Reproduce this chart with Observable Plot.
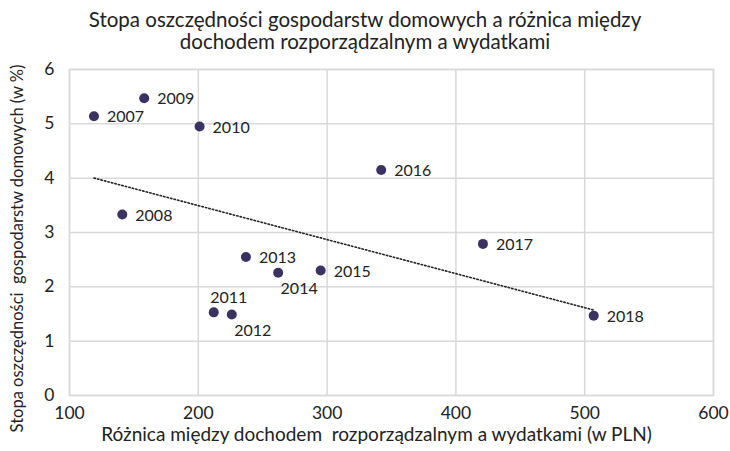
<!DOCTYPE html>
<html>
<head>
<meta charset="utf-8">
<script src="https://cdn.jsdelivr.net/npm/d3@7"></script>
<script src="https://cdn.jsdelivr.net/npm/@observablehq/plot@0.6"></script>
<style>
  body { margin: 0; background: #fff; font-family: Lato, "Open Sans", sans-serif; }
  #wrap { position: relative; width: 730px; height: 451px; }
  #title { position: absolute; top: 0; left: 0; width: 730px; box-sizing: border-box; padding-top: 8px; text-align: center; font-size: 20.5px; line-height: 22px; color: #222; }
</style>
</head>
<body>
<div id="wrap">
<div id="chart"></div>
<div id="title">Stopa oszczędności gospodarstw domowych a różnica między<br>dochodem rozporządzalnym a wydatkami</div>
</div>
<script>
const years = [2007, 2008, 2009, 2010, 2011, 2012, 2013, 2014, 2015, 2016, 2017, 2018];
const diffPLN = [119, 141, 158, 201, 212, 226, 237, 262, 295, 342, 421, 507];
const savingsRate = [5.14, 3.33, 5.47, 4.95, 1.53, 1.49, 2.55, 2.26, 2.30, 4.15, 2.79, 1.47];
const xTicks = [100, 200, 300, 400, 500, 600];
const yTicks = [0, 1, 2, 3, 4, 5, 6];
const xLabel = "Różnica między dochodem  rozporządzalnym a wydatkami (w PLN)";
const yLabel = "Stopa oszczędności  gospodarstw domowych (w %)";

const data = years.map((y, i) => ({year: y, x: diffPLN[i], y: savingsRate[i]}));
const aboveYears = [2011];
const belowYears = [2012, 2014];
const rightData = data.filter(d => !aboveYears.includes(d.year) && !belowYears.includes(d.year));
const aboveData = data.filter(d => aboveYears.includes(d.year));
const belowData = data.filter(d => belowYears.includes(d.year));

const dotColor = "#3b3262";
const gridColor = "#d9d9d9";
const font = "Lato, 'Open Sans', sans-serif";

const chart = Plot.plot({
  width: 730,
  height: 451,
  marginTop: 69,
  marginBottom: 56,
  marginLeft: 69,
  marginRight: 17,
  style: {fontFamily: font, fontSize: "17px", color: "#222", background: "#fff", overflow: "visible"},
  x: {domain: [100, 600], ticks: xTicks, label: null},
  y: {domain: [0, 6], ticks: yTicks, label: null},
  marks: [
    Plot.gridX(xTicks, {stroke: gridColor, strokeOpacity: 1, strokeWidth: 1.5}),
    Plot.gridY(yTicks, {stroke: gridColor, strokeOpacity: 1, strokeWidth: 1.5}),
    Plot.frame({stroke: gridColor, strokeWidth: 1.5}),
    Plot.axisX({ticks: xTicks, tickSize: 0, tickPadding: 11, fontSize: 17.5, label: null, tickFormat: d3.format("d")}),
    Plot.axisY({ticks: yTicks, tickSize: 0, tickPadding: 15, fontSize: 17.5, label: null, tickFormat: d3.format("d")}),
    Plot.linearRegressionY(data, {x: "x", y: "y", ci: 0, stroke: "#222", strokeWidth: 1.6, strokeDasharray: "1.4,2.2"}),
    Plot.dot(data, {x: "x", y: "y", r: 5, fill: dotColor, stroke: "none"}),
    Plot.text(rightData, {x: "x", y: "y", text: d => String(d.year), textAnchor: "start", dx: 13, dy: 1, fontSize: 16, fill: "#222"}),
    Plot.text(aboveData, {x: "x", y: "y", text: d => String(d.year), textAnchor: "middle", dx: 15, dy: -14, fontSize: 16, fill: "#222"}),
    Plot.text(belowData, {x: "x", y: "y", text: d => String(d.year), textAnchor: "middle", dx: 21, dy: 16, fontSize: 16, fill: "#222"}),
    Plot.text([xLabel], {frameAnchor: "bottom", dy: 45, text: d => d, fontSize: 19, fill: "#222", dx: -15}),
    Plot.text([yLabel], {frameAnchor: "left", textAnchor: "middle", dx: -52, dy: 16, rotate: -90, text: d => d, fontSize: 16.5, fill: "#222"})
  ]
});
document.getElementById("chart").appendChild(chart);
</script>
</body>
</html>
